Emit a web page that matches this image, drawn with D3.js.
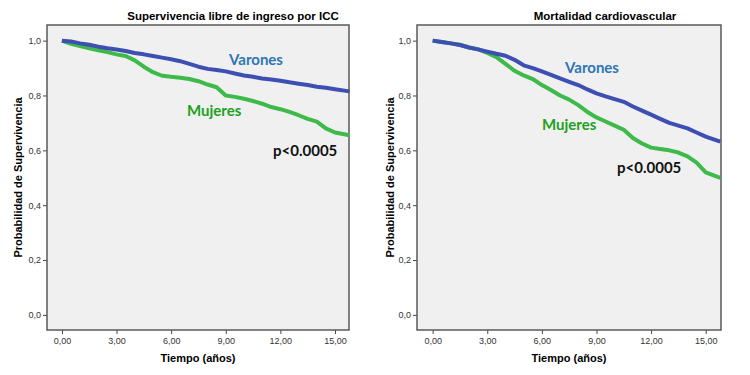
<!DOCTYPE html>
<html>
<head>
<meta charset="utf-8">
<script src="https://cdn.jsdelivr.net/npm/d3@7"></script>
<style>
  body { margin: 0; background: #fff; }
  svg { display: block; }
</style>
</head>
<body>
<div id="chart"></div>
<script>
// follow-up time (years) shared by all curves
const tiempo = [0, 0.5, 1, 1.5, 2, 2.5, 3, 3.5, 4, 4.5, 5, 5.5, 6, 6.5, 7, 7.5, 8,
  8.5, 9, 9.5, 10, 10.5, 11, 11.5, 12, 12.5, 13, 13.5, 14, 14.5, 15, 15.8];

// panel 1: Supervivencia libre de ingreso por ICC
const icc_varones = [1.0, 0.997, 0.99, 0.985, 0.978, 0.972, 0.968, 0.962, 0.955, 0.95, 0.944,
  0.938, 0.932, 0.925, 0.915, 0.905, 0.897, 0.893, 0.888, 0.88, 0.873, 0.868, 0.862, 0.858,
  0.854, 0.848, 0.843, 0.838, 0.832, 0.828, 0.823, 0.815];
const icc_mujeres = [1.0, 0.988, 0.98, 0.972, 0.965, 0.958, 0.95, 0.944, 0.928, 0.905, 0.885,
  0.872, 0.868, 0.865, 0.86, 0.852, 0.84, 0.83, 0.8, 0.795, 0.788, 0.78, 0.77, 0.758, 0.75,
  0.74, 0.728, 0.715, 0.705, 0.68, 0.665, 0.655];

// panel 2: Mortalidad cardiovascular
const cv_varones = [1.0, 0.995, 0.99, 0.984, 0.975, 0.968, 0.96, 0.952, 0.945, 0.93, 0.91,
  0.9, 0.888, 0.875, 0.862, 0.85, 0.838, 0.822, 0.808, 0.797, 0.787, 0.777, 0.76, 0.745,
  0.73, 0.715, 0.7, 0.69, 0.68, 0.665, 0.65, 0.632];
const cv_mujeres = [1.0, 0.995, 0.99, 0.985, 0.975, 0.968, 0.955, 0.94, 0.915, 0.89, 0.873,
  0.86, 0.838, 0.82, 0.8, 0.785, 0.765, 0.74, 0.72, 0.705, 0.69, 0.675, 0.645, 0.625, 0.61,
  0.605, 0.6, 0.592, 0.578, 0.555, 0.52, 0.5];

const xTicks = [0, 3, 6, 9, 12, 15];
const yTicks = [0, 0.2, 0.4, 0.6, 0.8, 1.0];
const titulos = ["Supervivencia libre de ingreso por ICC", "Mortalidad cardiovascular"];
const pTexto = "p<0.0005";

const svg = d3.select("#chart").append("svg")
  .attr("width", 750)
  .attr("height", 375);

const coma = f => s => f(s).replace(".", ",");

const panels = [
  {x0: 47, x1: 349, dom: [-0.82, 15.77], title: titulos[0], tx: 233, varones: icc_varones, mujeres: icc_mujeres,
   labV: [229, 65], labM: [187, 116], labP: [273, 156], ylab: 18},
  {x0: 417, x1: 721, dom: [-0.86, 15.84], title: titulos[1], tx: 605, varones: cv_varones, mujeres: cv_mujeres,
   labV: [565, 73], labM: [542, 130], labP: [617, 173], ylab: 390}
];

const plotTop = 25, plotBottom = 330;

panels.forEach(p => {
  const x = d3.scaleLinear().domain(p.dom).range([p.x0, p.x1]);
  const y = d3.scaleLinear().domain([-0.055, 1.057]).range([plotBottom, plotTop]);

  const g = svg.append("g");

  g.append("rect")
    .attr("x", p.x0).attr("y", plotTop)
    .attr("width", p.x1 - p.x0).attr("height", plotBottom - plotTop)
    .attr("fill", "#f0f0f0");

  // axes
  const ax = g.append("g")
    .attr("transform", `translate(0,${plotBottom})`)
    .call(d3.axisBottom(x).tickValues(xTicks).tickSize(4).tickPadding(4).tickFormat(coma(d3.format(".2f"))));
  const ay = g.append("g")
    .attr("transform", `translate(${p.x0},0)`)
    .call(d3.axisLeft(y).tickValues(yTicks).tickSize(4).tickPadding(2).tickFormat(coma(d3.format(".1f"))));
  [ax, ay].forEach(a => {
    a.select(".domain").remove();
    a.selectAll("line").attr("stroke", "#444");
    a.selectAll("text")
      .attr("fill", "#333")
      .style("font-family", "'Liberation Sans', Arial, sans-serif")
      .style("font-size", "9px");
  });

  // frame
  g.append("rect")
    .attr("x", p.x0).attr("y", plotTop)
    .attr("width", p.x1 - p.x0).attr("height", plotBottom - plotTop)
    .attr("fill", "none")
    .attr("stroke", "#5a5a5a")
    .attr("stroke-width", 1.5);

  const line = d3.line()
    .x((d, i) => x(tiempo[i]))
    .y(d => y(d));

  g.append("path")
    .datum(p.mujeres)
    .attr("d", line)
    .attr("fill", "none")
    .attr("stroke", "#3dba4a")
    .attr("stroke-width", 4)
    .attr("stroke-linejoin", "round");

  g.append("path")
    .datum(p.varones)
    .attr("d", line)
    .attr("fill", "none")
    .attr("stroke", "#3d4fb3")
    .attr("stroke-width", 4)
    .attr("stroke-linejoin", "round");

  // titles and axis labels
  g.append("text")
    .attr("x", p.tx).attr("y", 20)
    .attr("text-anchor", "middle")
    .style("font-family", "'Liberation Sans', Arial, sans-serif")
    .style("font-weight", "700")
    .style("font-size", "11.5px")
    .text(p.title);

  g.append("text")
    .attr("x", (p.x0 + p.x1) / 2).attr("y", 362)
    .attr("text-anchor", "middle")
    .style("font-family", "'Liberation Sans', Arial, sans-serif")
    .style("font-weight", "700")
    .style("font-size", "11px")
    .text("Tiempo (años)");

  g.append("text")
    .attr("transform", `translate(${p.ylab + 4},${(plotTop + plotBottom) / 2}) rotate(-90)`)
    .attr("text-anchor", "middle")
    .style("font-family", "'Liberation Sans', Arial, sans-serif")
    .style("font-weight", "700")
    .style("font-size", "11px")
    .text("Probabilidad de Supervivencia");

  // annotations
  const ann = (pos, txt, col) => g.append("text")
    .attr("x", pos[0]).attr("y", pos[1])
    .attr("fill", col)
    .style("font-family", "Lato, 'Open Sans', sans-serif")
    .style("font-weight", "700")
    .style("font-size", "15px")
    .text(txt);
  ann(p.labV, "Varones", "#2e75b6");
  ann(p.labM, "Mujeres", "#20a020");
  ann(p.labP, pTexto, "#111");
});
</script>
</body>
</html>
